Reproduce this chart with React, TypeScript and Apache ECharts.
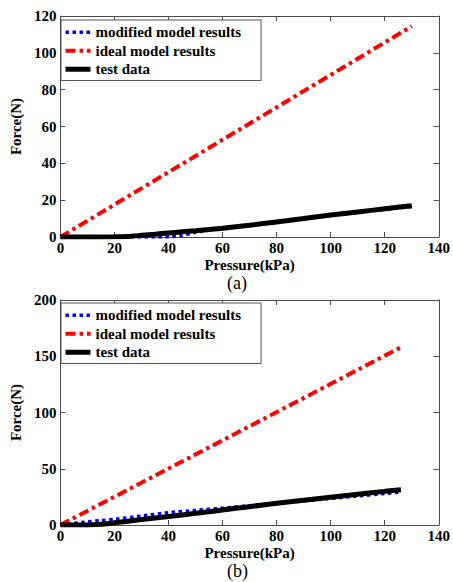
import React, { useEffect, useRef } from "react";
import * as echarts from "echarts";

// ---- Data ----
const seriesNames = ["modified model results", "ideal model results", "test data"];

// (a)
const pressureA = [0, 10, 20, 25, 30, 35, 40, 45, 50, 60, 70, 80, 90, 100, 110, 120, 130];
const testA = [0, 0, 0.1, 0.3, 0.9, 1.5, 2.2, 2.8, 3.4, 4.7, 6.4, 8.2, 10, 11.9, 13.6, 15.3, 17];
const modifiedA = [0, 0, 0, 0, 0, 0, 0.1, 0.8, 2.6, 4.6, 6.3, 8.1, 9.9, 11.7, 13.4, 15, 16.6];
const idealPressureA = [0, 130];
const idealA = [0, 114.4];

// (b)
const pressureB = [0, 5, 10, 15, 20, 30, 40, 50, 60, 70, 80, 90, 100, 110, 120, 126];
const testB = [0, 0, 0, 0.6, 2, 4.8, 7.5, 10.4, 13.3, 16.3, 19.3, 22, 24.7, 27.4, 29.9, 31.3];
const modifiedB = [0, 1.5, 2.8, 4, 5, 8, 11, 13, 15, 17.2, 19.3, 21.5, 23.6, 25.8, 28, 29.3];
const idealPressureB = [0, 126];
const idealB = [0, 158];

const FONT = "Liberation Serif";
const AXIS_COLOR = "#4a4a4a";

const LINE_STYLES = [
  { color: "#0000ff", width: 3.5, type: [3.5, 3.5], cap: "butt" },
  { color: "#ff0000", width: 4, type: [10, 4, 3.5, 4], cap: "butt" },
  { color: "#000000", width: 5, type: "solid", cap: "butt" },
];

const pairs = (xs: number[], ys: number[]) => xs.map((x, i) => [x, ys[i]]);

function mainX(gridIndex: number) {
  return {
    type: "value",
    gridIndex,
    position: "bottom",
    min: 0,
    max: 140,
    interval: 20,
    name: "Pressure(kPa)",
    nameLocation: "middle",
    nameGap: 20,
    nameTextStyle: { fontFamily: FONT, fontWeight: "bold", fontSize: 15, color: "#000" },
    axisLine: { show: true, lineStyle: { color: AXIS_COLOR, width: 1 } },
    axisTick: { show: true, inside: true, length: 5, lineStyle: { color: AXIS_COLOR } },
    axisLabel: { margin: 3, fontFamily: FONT, fontWeight: "bold", fontSize: 15, color: "#000", showMinLabel: true, showMaxLabel: true },
    splitLine: { show: false },
  };
}
function mirrorX(gridIndex: number) {
  return {
    type: "value",
    gridIndex,
    position: "top",
    min: 0,
    max: 140,
    interval: 20,
    axisLine: { show: true, onZero: false, lineStyle: { color: AXIS_COLOR, width: 1 } },
    axisTick: { show: true, inside: true, length: 5, lineStyle: { color: AXIS_COLOR } },
    axisLabel: { show: false },
    splitLine: { show: false },
  };
}
function mainY(gridIndex: number, max: number, interval: number) {
  return {
    type: "value",
    gridIndex,
    position: "left",
    min: 0,
    max,
    interval,
    name: "Force(N)",
    nameLocation: "middle",
    nameGap: 30,
    nameTextStyle: { fontFamily: FONT, fontWeight: "bold", fontSize: 15, color: "#000" },
    axisLine: { show: true, onZero: false, lineStyle: { color: AXIS_COLOR, width: 1 } },
    axisTick: { show: true, inside: true, length: 5, lineStyle: { color: AXIS_COLOR } },
    axisLabel: { margin: 4, fontFamily: FONT, fontWeight: "bold", fontSize: 15, color: "#000", showMinLabel: true, showMaxLabel: true },
    splitLine: { show: false },
  };
}
function mirrorY(gridIndex: number, max: number, interval: number) {
  return {
    type: "value",
    gridIndex,
    position: "right",
    min: 0,
    max,
    interval,
    axisLine: { show: true, onZero: false, lineStyle: { color: AXIS_COLOR, width: 1 } },
    axisTick: { show: true, inside: true, length: 5, lineStyle: { color: AXIS_COLOR } },
    axisLabel: { show: false },
    splitLine: { show: false },
  };
}

function seriesFor(idx: number, mod: number[][], ideal: number[][], test: number[][]) {
  const base = {
    type: "line",
    xAxisIndex: idx * 2,
    yAxisIndex: idx * 2,
    showSymbol: false,
    symbol: "none",
    smooth: 0.2,
  };
  return [
    { ...base, name: seriesNames[0], data: mod, z: 2, lineStyle: LINE_STYLES[0], itemStyle: { color: LINE_STYLES[0].color } },
    { ...base, name: seriesNames[1], data: ideal, smooth: false, z: 3, lineStyle: LINE_STYLES[1], itemStyle: { color: LINE_STYLES[1].color } },
    { ...base, name: seriesNames[2], data: test, z: 4, lineStyle: LINE_STYLES[2], itemStyle: { color: LINE_STYLES[2].color } },
  ];
}

function legendAt(top: number) {
  return {
    orient: "vertical",
    left: 61,
    top,
    data: seriesNames.map((name, i) => ({ name, lineStyle: { ...LINE_STYLES[i] } })),
    itemWidth: 25,
    itemHeight: 10,
    itemGap: 0,
    padding: [3, 20, 2, 2],
    borderColor: "#555",
    borderWidth: 1,
    backgroundColor: "#fff",
    selectedMode: false,
    itemStyle: { opacity: 0 },
    textStyle: { fontFamily: FONT, fontWeight: "bold", fontSize: 15, color: "#000", lineHeight: 18.5 },
  };
}

export default function App() {
  const ref = useRef<HTMLDivElement>(null);
  useEffect(() => {
    if (!ref.current) return;
    const chart = echarts.init(ref.current, undefined, { renderer: "svg" });
    const option = {
      animation: false,
      backgroundColor: "#fff",
      grid: [
        { left: 58, top: 16, width: 384, height: 221 },
        { left: 58, top: 300, width: 384, height: 225 },
      ],
      xAxis: [mainX(0), mirrorX(0), mainX(1), mirrorX(1)],
      yAxis: [mainY(0, 120, 20), mirrorY(0, 120, 20), mainY(1, 200, 50), mirrorY(1, 200, 50)],
      legend: [legendAt(20), legendAt(303)],
      series: [
        ...seriesFor(0, pairs(pressureA, modifiedA), pairs(idealPressureA, idealA), pairs(pressureA, testA)),
        ...seriesFor(1, pairs(pressureB, modifiedB), pairs(idealPressureB, idealB), pairs(pressureB, testB)),
      ],
      graphic: [
        { type: "text", left: 227, top: 274, style: { text: "(a)", font: `18px "${FONT}"`, fill: "#000" } },
        { type: "text", left: 227, top: 562, style: { text: "(b)", font: `18px "${FONT}"`, fill: "#000" } },
      ],
    };
    chart.setOption(option as any);
    return () => chart.dispose();
  }, []);
  return (
    <div
      ref={ref}
      style={{ position: "absolute", left: 0, top: 0, width: 453, height: 582, background: "#fff" }}
    />
  );
}
